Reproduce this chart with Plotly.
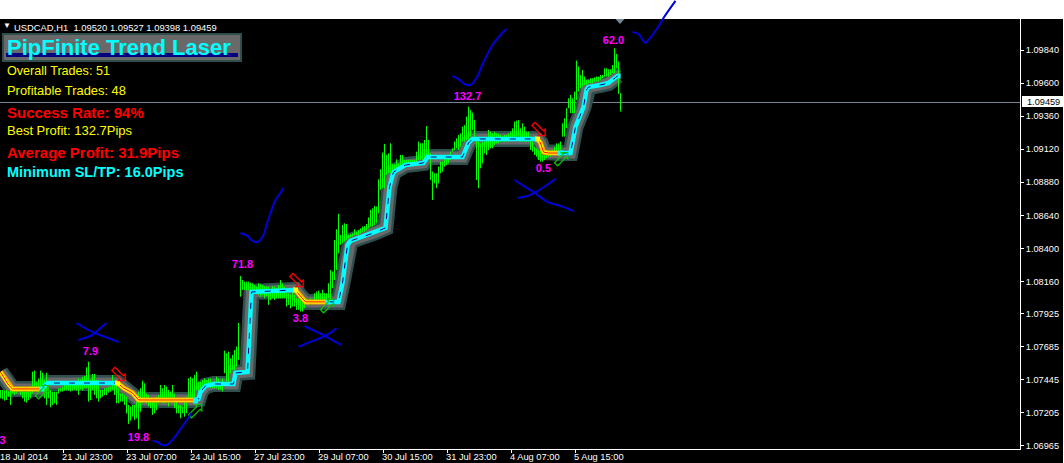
import plotly.graph_objects as go

highs_a = [1.07372,1.07372,1.07367,1.07372,1.07360,1.07384,1.07384,1.07384,1.07384,1.07384,1.07396,1.07372,1.07360,1.07360,1.07384,1.07401,1.07505,1.07512,1.07432,1.07456,1.07512,1.07497,1.07444,1.07497,1.07384,1.07372,1.07360,1.07360,1.07360,1.07384,1.07384,1.07396,1.07425,1.07425,1.07420,1.07420,1.07413,1.07420,1.07432,1.07456,1.07449,1.07468,1.07473,1.07536,1.07577,1.07444,1.07488,1.07488,1.07444,1.07444,1.07372,1.07372,1.07384,1.07384,1.07396,1.07396,1.07480,1.07425,1.07408,1.07384]
lows_a = [1.07311,1.07304,1.07294,1.07299,1.07323,1.07263,1.07347,1.07335,1.07347,1.07360,1.07335,1.07311,1.07287,1.07280,1.07299,1.07311,1.07347,1.07360,1.07360,1.07352,1.07372,1.07372,1.07311,1.07263,1.07311,1.07246,1.07263,1.07275,1.07263,1.07347,1.07360,1.07360,1.07367,1.07372,1.07367,1.07360,1.07367,1.07372,1.07367,1.07335,1.07376,1.07367,1.07384,1.07384,1.07287,1.07299,1.07372,1.07335,1.07311,1.07287,1.07311,1.07323,1.07335,1.07335,1.07352,1.07360,1.07372,1.07335,1.07275,1.07275]
highs_b = [1.07347,1.07347,1.07335,1.07323,1.07263,1.07251,1.07263,1.07263,1.07311,1.07360,1.07384,1.07439,1.07420,1.07347,1.07335,1.07299,1.07311,1.07299,1.07323,1.07335,1.07408,1.07384,1.07408,1.07396,1.07372,1.07360,1.07408,1.07347,1.07311,1.07263,1.07263,1.07251,1.07311,1.07323,1.07456,1.07468,1.07456,1.07480,1.07505,1.07432,1.07432,1.07444,1.07456,1.07444,1.07456,1.07456,1.07432,1.07432,1.07468,1.07456,1.07420,1.07456,1.07657,1.07638,1.07650,1.07602,1.07626,1.07662,1.07686,1.07858]
lows_b = [1.07287,1.07287,1.07263,1.07202,1.07125,1.07149,1.07178,1.07154,1.07166,1.07086,1.07214,1.07275,1.07287,1.07275,1.07251,1.07238,1.07190,1.07202,1.07226,1.07275,1.07287,1.07275,1.07275,1.07299,1.07251,1.07299,1.07287,1.07238,1.07202,1.07202,1.07166,1.07202,1.07178,1.07202,1.07287,1.07287,1.07299,1.07311,1.07372,1.07360,1.07372,1.07360,1.07384,1.07396,1.07396,1.07384,1.07384,1.07384,1.07384,1.07372,1.07372,1.07360,1.07493,1.07432,1.07420,1.07493,1.07517,1.07517,1.07541,1.07589]
highs_c = [1.08199,1.08170,1.08158,1.08158,1.08158,1.08151,1.08146,1.08134,1.08122,1.08146,1.08141,1.08134,1.08127,1.08122,1.08122,1.08103,1.08127,1.08122,1.08110,1.08134,1.08170,1.08146,1.08122,1.08074,1.08074,1.08062,1.08086,1.08062,1.08037,1.08037,1.08025,1.08030,1.08037,1.08037,1.08013,1.08037,1.08025,1.08074,1.08086,1.08093,1.08074,1.08098,1.08074,1.08074,1.08146,1.08243]
lows_c = [1.08049,1.08098,1.08098,1.08093,1.08098,1.08098,1.08086,1.08086,1.08074,1.08062,1.08049,1.08062,1.08037,1.08054,1.07989,1.08025,1.08037,1.08025,1.08037,1.08037,1.08037,1.08037,1.08037,1.07977,1.07989,1.07965,1.07977,1.07977,1.07953,1.07953,1.07941,1.07941,1.07965,1.08001,1.07989,1.08001,1.08001,1.08001,1.08013,1.08013,1.08013,1.08013,1.08013,1.08013,1.08037,1.08025]
highs_d = [1.08231,1.08461,1.08538,1.08650,1.08497,1.08570,1.08582,1.08577,1.08497,1.08504,1.08509,1.08538,1.08521,1.08533,1.08545,1.08558,1.08562,1.08577,1.08625,1.08679,1.08691,1.08708,1.08703,1.08901,1.08974,1.09095,1.09158,1.09078,1.09090,1.09163,1.09013,1.09013,1.09046,1.09017,1.09078,1.09078,1.09042,1.09042,1.09042,1.09042,1.09042,1.09042,1.09102,1.09175,1.09163,1.09163,1.09187,1.09288,1.09187,1.09090,1.08957,1.08945,1.08945,1.08993,1.09030,1.09030,1.09066,1.09066,1.09066,1.09102]
lows_d = [1.08110,1.08170,1.08243,1.08364,1.08425,1.08437,1.08449,1.08461,1.08473,1.08480,1.08485,1.08497,1.08497,1.08497,1.08509,1.08521,1.08521,1.08533,1.08545,1.08558,1.08558,1.08570,1.08582,1.08654,1.08824,1.08836,1.08836,1.08933,1.08945,1.08945,1.08957,1.08957,1.08969,1.08981,1.08981,1.08993,1.09005,1.09005,1.09005,1.09017,1.09017,1.09017,1.09030,1.09042,1.09042,1.09042,1.09042,1.09042,1.09066,1.08896,1.08751,1.08872,1.08836,1.08872,1.08945,1.08957,1.08993,1.09005,1.09017,1.09042]
highs_e = [1.09126,1.09175,1.09199,1.09223,1.09235,1.09283,1.09295,1.09356,1.09429,1.09404,1.09385,1.09332,1.09187,1.09175,1.09162,1.09175,1.09175,1.09187,1.09259,1.09247,1.09235,1.09247,1.09235,1.09235,1.09223,1.09216,1.09223,1.09223,1.09235,1.09247,1.09271,1.09320,1.09327,1.09332,1.09271,1.09308,1.09283,1.09247,1.09247,1.09211,1.09175,1.09138,1.09126,1.09114,1.09114,1.09078,1.09078,1.09102,1.09102,1.09114,1.09114,1.09138,1.09162,1.09162,1.09175]
lows_e = [1.09102,1.09114,1.09126,1.09114,1.09138,1.09175,1.09175,1.09187,1.09187,1.09211,1.09259,1.09187,1.08896,1.08836,1.08981,1.09017,1.09090,1.09078,1.09114,1.09126,1.09126,1.09150,1.09162,1.09162,1.09175,1.09175,1.09175,1.09175,1.09175,1.09187,1.09199,1.09199,1.09211,1.09211,1.09175,1.09175,1.09175,1.09175,1.09175,1.09114,1.09102,1.09078,1.09066,1.09041,1.09029,1.09029,1.09041,1.09053,1.09066,1.09066,1.09078,1.09078,1.09102,1.09102,1.09114]
highs_f = [1.09308,1.09344,1.09417,1.09489,1.09514,1.09489,1.09538,1.09763,1.09719,1.09659,1.09695,1.09647,1.09623,1.09623,1.09635,1.09635,1.09642,1.09647,1.09647,1.09659,1.09659,1.09707,1.09707,1.09700,1.09700,1.09731,1.09852,1.09811,1.09756,1.09526]
lows_f = [1.09211,1.09211,1.09272,1.09417,1.09381,1.09381,1.09381,1.09477,1.09538,1.09562,1.09574,1.09586,1.09586,1.09598,1.09598,1.09598,1.09611,1.09611,1.09611,1.09623,1.09635,1.09647,1.09647,1.09647,1.09659,1.09671,1.09671,1.09707,1.09521,1.09393]

highs = highs_a + highs_b + highs_c + highs_d + highs_e + highs_f
lows = lows_a + lows_b + lows_c + lows_d + lows_e + lows_f
assert len(highs) == len(lows)

# trend line, downtrend and uptrend stretches
down_x = [[0, 2, 4, 6, 20.5], [58.5, 61.5, 66, 69, 96.5], [147.5, 149, 152.5, 162.5], [268.5, 270, 271.5, 274, 280]]
down_y = [[1.07502, 1.07458, 1.07408, 1.07379, 1.07379],
          [1.07422, 1.07386, 1.07350, 1.07299, 1.07299],
          [1.08098, 1.08069, 1.08011, 1.08011],
          [1.09194, 1.09165, 1.09099, 1.09092, 1.09092]]
up_x = [[20.5, 22.5, 23.5, 58.5],
        [96.5, 99, 100, 102.5, 106.5, 116.5, 117.5, 123.5, 125.5, 146.5, 147.5],
        [163.5, 169, 171, 173.5, 175, 186.5, 192.5, 194.5, 196.5, 202.5, 211.5, 213.5, 231, 234, 236, 267.5, 268.5],
        [280, 285, 287.5, 291.5, 293, 294, 300, 304, 308.5, 310]]
up_y = [[1.07379, 1.07415, 1.07422, 1.07422],
        [1.07299, 1.07306, 1.07357, 1.07401, 1.07415, 1.07415, 1.07495, 1.07502, 1.08083, 1.08098, 1.08098],
        [1.08011, 1.08011, 1.08148, 1.08424, 1.08454, 1.08511, 1.08548, 1.08845, 1.08954, 1.09005, 1.09020, 1.09063, 1.09063, 1.09165, 1.09194, 1.09194, 1.09194],
        [1.09092, 1.09092, 1.09281, 1.09426, 1.09550, 1.09571, 1.09586, 1.09600, 1.09651, 1.09651]]
band_x = down_x[0] + up_x[0][1:] + down_x[1][1:] + up_x[1][1:] + down_x[2][1:] + up_x[2][1:] + down_x[3][1:] + up_x[3][1:]
band_y = down_y[0] + up_y[0][1:] + down_y[1][1:] + up_y[1][1:] + down_y[2][1:] + up_y[2][1:] + down_y[3][1:] + up_y[3][1:]

sell_x, sell_y = [59, 148, 269], [1.07473, 1.08156, 1.09252]
buy_x, buy_y = [21, 97.5, 163.5, 280.5], [1.07350, 1.07212, 1.07974, 1.09041]
sell_dot_x, sell_dot_y = [58.5, 147.5, 268.5], [1.07422, 1.08098, 1.09194]
buy_dot_x, buy_dot_y = [20.5, 97.5, 163.5, 280], [1.07379, 1.07291, 1.08011, 1.09092]

pip_labels = ["3", "7.9", "19.8", "71.8", "3.8", "132.7", "0.5", "62.0"]
pip_x = [1, 45, 69, 121, 150, 233.5, 271.5, 306.5]
pip_y = [1.07002, 1.07647, 1.07023, 1.08279, 1.07887, 1.09499, 1.08976, 1.09905]

# pen marks drawn over the screenshot
pen_x = [[38, 45, 52.5, 59], [39, 46, 50, 53],
         [76, 78.5, 81, 83, 86, 89, 92.5, 95.5],
         [120, 123.5, 126, 128.5, 131, 133.5, 137.5, 140, 141.5],
         [152, 156, 161.5, 166.5, 170.5], [149, 153.5, 160, 165, 168],
         [226, 229, 232, 235, 238, 241.5, 246, 250, 253],
         [257, 261.5, 266.5, 273.5, 280, 286.5], [258.5, 263.5, 268.5, 274, 277.5],
         [316, 319, 322.5, 324, 328.5, 331.5, 337.5]]
pen_y = [[1.07858, 1.07800, 1.07756, 1.07720], [1.07735, 1.07771, 1.07822, 1.07858],
         [1.07002, 1.06994, 1.06972, 1.06972, 1.07009, 1.07067, 1.07139, 1.07204],
         [1.08511, 1.08490, 1.08454, 1.08446, 1.08482, 1.08591, 1.08751, 1.08802, 1.08838],
         [1.07836, 1.07807, 1.07771, 1.07728, 1.07699], [1.07684, 1.07713, 1.07749, 1.07786, 1.07822],
         [1.09651, 1.09629, 1.09593, 1.09586, 1.09637, 1.09753, 1.09876, 1.09949, 1.09992],
         [1.08896, 1.08853, 1.08809, 1.08737, 1.08708, 1.08671], [1.08766, 1.08780, 1.08816, 1.08867, 1.08904],
         [1.09971, 1.09956, 1.09891, 1.09913, 1.10000, 1.10072, 1.10196]]

price_ticks = [1.09840, 1.09600, 1.09360, 1.09120, 1.08880, 1.08640, 1.08400, 1.08160, 1.07925, 1.07685, 1.07445, 1.07205, 1.06965]
price_labels = ["1.09840", "1.09600", "1.09360", "1.09120", "1.08880", "1.08640", "1.08400", "1.08160",
                "1.07925", "1.07685", "1.07445", "1.07205", "1.06965"]
time_ticks = [31.5, 63.5, 95.5, 127.5, 159.5, 191.5, 223.5, 255.5, 287.5]
time_labels = ["18 Jul 2014", "21 Jul 23:00", "23 Jul 07:00", "24 Jul 15:00", "27 Jul 23:00",
               "29 Jul 07:00", "30 Jul 15:00", "31 Jul 23:00", "4 Aug 07:00", "5 Aug 15:00"]
last_price = 1.09459

W, H = 1064, 463
PLOT_W, PLOT_H = 1020, 449
STRIP = 19


def xp(px):
    return px / PLOT_W


def yp(py):
    return 1 - py / PLOT_H


fig = go.Figure()

fig.add_trace(go.Scatter(x=band_x, y=band_y, mode="lines", line=dict(color="#2F4F4F", width=16)))
fig.add_trace(go.Scatter(x=band_x, y=band_y, mode="lines", line=dict(color="#696969", width=11)))

bar_x, bar_y = [], []
for i, (h, l) in enumerate(zip(highs, lows)):
    bar_x += [i, i, None]
    bar_y += [l, h, None]
fig.add_trace(go.Scatter(x=bar_x, y=bar_y, mode="lines", line=dict(color="#00FF00", width=1)))

for xs, ys in zip(down_x, down_y):
    fig.add_trace(go.Scatter(x=xs, y=ys, mode="lines", line=dict(color="#FFA500", width=5)))
    fig.add_trace(go.Scatter(x=xs, y=ys, mode="lines", line=dict(color="#FFFF00", width=3)))
    fig.add_trace(go.Scatter(x=xs, y=ys, mode="lines", line=dict(color="#FF0000", width=1)))
for xs, ys in zip(up_x, up_y):
    fig.add_trace(go.Scatter(x=xs, y=ys, mode="lines", line=dict(color="#00FFFF", width=4.5)))
    fig.add_trace(go.Scatter(x=xs, y=ys, mode="lines", line=dict(color="#000080", width=1, dash="6px,9px")))

fig.add_trace(go.Scatter(x=sell_dot_x, y=sell_dot_y, mode="markers",
                         marker=dict(symbol="square", size=5, color="#FFFF00")))
fig.add_trace(go.Scatter(x=buy_dot_x, y=buy_dot_y, mode="markers",
                         marker=dict(symbol="square", size=5, color="#00FFFF")))

fig.add_trace(go.Scatter(x=sell_x, y=sell_y, mode="text", text=["\u2b02"] * len(sell_x), cliponaxis=False,
                         textfont=dict(family="DejaVu Sans", size=24, color="#FF0000")))
fig.add_trace(go.Scatter(x=buy_x, y=buy_y, mode="text", text=["\u2b00"] * len(buy_x), cliponaxis=False,
                         textfont=dict(family="DejaVu Sans", size=24, color="#00C800")))

fig.add_trace(go.Scatter(x=pip_x, y=pip_y, mode="text", text=pip_labels, cliponaxis=False,
                         textfont=dict(family="Liberation Sans", size=11, color="#FF00FF", weight="bold")))

for xs, ys in zip(pen_x, pen_y):
    fig.add_trace(go.Scatter(x=xs, y=ys, mode="lines",
                             line=dict(color="#0000D8", width=2, shape="spline")))

shapes = [
    # white strip above the chart, and the thin one at the right edge
    dict(type="rect", xref="paper", yref="paper", x0=0, x1=xp(W), y0=yp(STRIP), y1=1,
         fillcolor="white", line_width=0, layer="below"),
    dict(type="rect", xref="paper", yref="paper", x0=xp(W - 1), x1=xp(W), y0=yp(H), y1=1,
         fillcolor="white", line_width=0, layer="below"),
    # last price line
    dict(type="line", xref="paper", yref="y", x0=0, x1=1, y0=last_price, y1=last_price,
         line=dict(color="#778899", width=1), layer="below"),
    # title box
    dict(type="rect", xref="paper", yref="paper", x0=xp(3), x1=xp(241), y0=yp(61), y1=yp(34),
         fillcolor="#696969", line=dict(color="#2F4F4F", width=2)),
    dict(type="rect", xref="paper", yref="paper", x0=xp(6), x1=xp(238), y0=yp(57), y1=yp(53),
         fillcolor="#000080", line_width=0),
    # chart shift marker
    dict(type="path", xref="paper", yref="paper",
         path=f"M {xp(615.5)} {yp(19)} L {xp(624.5)} {yp(19)} L {xp(620)} {yp(24)} Z",
         fillcolor="#778899", line_width=0),
    # price box at the axis
    dict(type="rect", xref="paper", yref="paper", x0=xp(1022), x1=xp(W), y0=yp(107), y1=yp(96),
         fillcolor="white", line_width=0),
]


def text(px, py, s, color, size, bold=False, family="Liberation Sans"):
    font = dict(family=family, size=size, color=color)
    if bold:
        font["weight"] = "bold"
    return dict(x=xp(px), y=yp(py), xref="paper", yref="paper", text=s, showarrow=False,
                xanchor="left", yanchor="middle", font=font, borderpad=0)


annotations = [
    text(2, 26, "\u25bc", "white", 8),
    text(13, 27, "USDCAD,H1  1.09520 1.09527 1.09398 1.09459", "white", 9.4),
    text(6, 47, "PipFinite Trend Laser", "#00FFFF", 22, bold=True),
    text(6, 71, "Overall Trades: 51", "#FFFF00", 12.6),
    text(6, 91, "Profitable Trades: 48", "#FFFF00", 12.9),
    text(6, 112, "Success Rate: 94%", "#FF0000", 15, bold=True),
    text(6, 131, "Best Profit: 132.7Pips", "#FFFF00", 13),
    text(6, 152, "Average Profit: 31.9Pips", "#FF0000", 15, bold=True),
    text(6, 172, "Minimum SL/TP: 16.0Pips", "#00FFFF", 14.5, bold=True),
    text(1026, 102, "1.09459", "black", 9.2),
]
label_px = [-1, 61, 125, 189, 253, 317, 381, 445, 509, 573]
for px, s in zip(label_px, time_labels):
    annotations.append(text(px, 457, s, "white", 9.3))

fig.update_layout(
    width=W, height=H,
    margin=dict(l=0, r=W - PLOT_W, t=0, b=H - PLOT_H, pad=0),
    paper_bgcolor="black", plot_bgcolor="black",
    showlegend=False, shapes=shapes, annotations=annotations,
    xaxis=dict(range=[-0.25, (PLOT_W - 0.5) / 2], tickmode="array", tickvals=time_ticks, showticklabels=False,
               ticks="outside", ticklen=3, tickcolor="white", showgrid=False, zeroline=False,
               showline=True, linecolor="white", linewidth=1),
    yaxis=dict(range=[1.06943, 1.10203], side="right", tickmode="array", tickvals=price_ticks, ticktext=price_labels,
               ticks="outside", ticklen=3, tickcolor="white", showgrid=False, zeroline=False,
               showline=True, linecolor="white", linewidth=1,
               tickfont=dict(family="Liberation Sans", size=9.2, color="white")),
)

# the page body has a default margin that would shift the chart
fig.write_html("out.html", config=dict(displayModeBar=False), post_script="document.body.style.margin = '0';")
